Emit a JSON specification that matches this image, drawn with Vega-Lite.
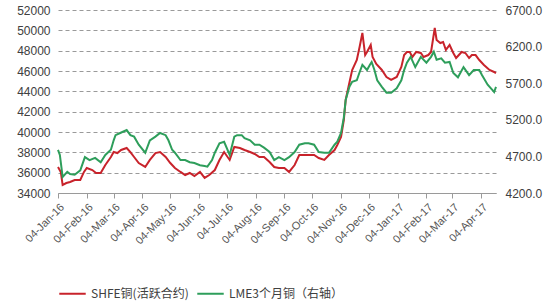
{
  "$schema": "https://vega.github.io/schema/vega-lite/v6.json",
  "width": 438,
  "height": 183,
  "autosize": {"type": "none"},
  "padding": {"left": 58, "top": 10, "right": 59, "bottom": 110},
  "background": "white",
  "config": {
    "view": {"stroke": null},
    "font": "Liberation Sans",
    "axis": {"labelColor": "#404040", "labelFontSize": 12, "titleFontSize": 12},
    "axisX": {"labelOverlap": false}
  },
  "datasets": {
    "shfe": [
      {"date": "2016-01-04", "value": 36560}, {"date": "2016-01-07", "value": 36070}, {"date": "2016-01-09", "value": 34790},
      {"date": "2016-01-13", "value": 34980}, {"date": "2016-01-17", "value": 35080}, {"date": "2016-01-22", "value": 35280},
      {"date": "2016-01-28", "value": 35280}, {"date": "2016-02-01", "value": 36070}, {"date": "2016-02-04", "value": 36460},
      {"date": "2016-02-10", "value": 36260}, {"date": "2016-02-14", "value": 35970}, {"date": "2016-02-19", "value": 35970},
      {"date": "2016-02-24", "value": 36750}, {"date": "2016-03-01", "value": 37540}, {"date": "2016-03-04", "value": 38030},
      {"date": "2016-03-08", "value": 37930}, {"date": "2016-03-12", "value": 38230}, {"date": "2016-03-18", "value": 38430},
      {"date": "2016-03-22", "value": 38030}, {"date": "2016-03-26", "value": 37540}, {"date": "2016-03-31", "value": 36950},
      {"date": "2016-04-07", "value": 36560}, {"date": "2016-04-12", "value": 37250}, {"date": "2016-04-18", "value": 37930},
      {"date": "2016-04-23", "value": 38030}, {"date": "2016-04-29", "value": 37540}, {"date": "2016-05-04", "value": 36950},
      {"date": "2016-05-09", "value": 36460}, {"date": "2016-05-15", "value": 36070}, {"date": "2016-05-20", "value": 35770},
      {"date": "2016-05-25", "value": 35970}, {"date": "2016-05-30", "value": 35670}, {"date": "2016-06-05", "value": 36070},
      {"date": "2016-06-10", "value": 35480}, {"date": "2016-06-15", "value": 35770}, {"date": "2016-06-21", "value": 36260},
      {"date": "2016-06-26", "value": 37250}, {"date": "2016-07-01", "value": 38030}, {"date": "2016-07-07", "value": 37250},
      {"date": "2016-07-12", "value": 38530}, {"date": "2016-07-18", "value": 38430}, {"date": "2016-07-23", "value": 38230},
      {"date": "2016-07-29", "value": 38030}, {"date": "2016-08-03", "value": 37840}, {"date": "2016-08-08", "value": 37540},
      {"date": "2016-08-13", "value": 37540}, {"date": "2016-08-19", "value": 37050}, {"date": "2016-08-24", "value": 36560},
      {"date": "2016-08-29", "value": 36460}, {"date": "2016-09-04", "value": 36460}, {"date": "2016-09-09", "value": 36070},
      {"date": "2016-09-15", "value": 36750}, {"date": "2016-09-20", "value": 37740}, {"date": "2016-09-26", "value": 37740},
      {"date": "2016-09-30", "value": 37740}, {"date": "2016-10-06", "value": 37740}, {"date": "2016-10-11", "value": 37440},
      {"date": "2016-10-17", "value": 37250}, {"date": "2016-10-22", "value": 37740}, {"date": "2016-10-28", "value": 38230},
      {"date": "2016-10-31", "value": 38720}, {"date": "2016-11-04", "value": 39510}, {"date": "2016-11-07", "value": 41180},
      {"date": "2016-11-09", "value": 43150}, {"date": "2016-11-12", "value": 44430}, {"date": "2016-11-16", "value": 46100},
      {"date": "2016-11-21", "value": 47080}, {"date": "2016-11-24", "value": 48360}, {"date": "2016-11-27", "value": 49740},
      {"date": "2016-11-30", "value": 47570}, {"date": "2016-12-02", "value": 47870}, {"date": "2016-12-06", "value": 48560},
      {"date": "2016-12-08", "value": 47380}, {"date": "2016-12-12", "value": 46690}, {"date": "2016-12-18", "value": 46100},
      {"date": "2016-12-23", "value": 45410}, {"date": "2016-12-28", "value": 45120}, {"date": "2017-01-03", "value": 45410},
      {"date": "2017-01-08", "value": 46390}, {"date": "2017-01-11", "value": 47570}, {"date": "2017-01-14", "value": 47870},
      {"date": "2017-01-17", "value": 47870}, {"date": "2017-01-20", "value": 47380}, {"date": "2017-01-24", "value": 47870},
      {"date": "2017-01-29", "value": 47770}, {"date": "2017-02-01", "value": 47380}, {"date": "2017-02-06", "value": 47570},
      {"date": "2017-02-09", "value": 47870}, {"date": "2017-02-11", "value": 49050}, {"date": "2017-02-13", "value": 50230},
      {"date": "2017-02-15", "value": 49050}, {"date": "2017-02-19", "value": 48750}, {"date": "2017-02-22", "value": 48850},
      {"date": "2017-02-25", "value": 48070}, {"date": "2017-03-01", "value": 48560}, {"date": "2017-03-05", "value": 47770},
      {"date": "2017-03-08", "value": 47280}, {"date": "2017-03-14", "value": 47870}, {"date": "2017-03-18", "value": 47770},
      {"date": "2017-03-22", "value": 47280}, {"date": "2017-03-25", "value": 47570}, {"date": "2017-03-29", "value": 47570},
      {"date": "2017-04-02", "value": 47080}, {"date": "2017-04-07", "value": 46590}, {"date": "2017-04-13", "value": 46100},
      {"date": "2017-04-18", "value": 45900}, {"date": "2017-04-20", "value": 45800}
    ],
    "lme": [
      {"date": "2016-01-04", "value": 4790}, {"date": "2016-01-06", "value": 4720}, {"date": "2016-01-09", "value": 4420},
      {"date": "2016-01-14", "value": 4490}, {"date": "2016-01-17", "value": 4460}, {"date": "2016-01-22", "value": 4450},
      {"date": "2016-01-28", "value": 4510}, {"date": "2016-02-02", "value": 4690}, {"date": "2016-02-07", "value": 4650},
      {"date": "2016-02-13", "value": 4680}, {"date": "2016-02-19", "value": 4620}, {"date": "2016-02-24", "value": 4720},
      {"date": "2016-03-01", "value": 4790}, {"date": "2016-03-04", "value": 4920}, {"date": "2016-03-06", "value": 4990},
      {"date": "2016-03-11", "value": 5020}, {"date": "2016-03-18", "value": 5060}, {"date": "2016-03-22", "value": 4990},
      {"date": "2016-03-26", "value": 4970}, {"date": "2016-03-31", "value": 4860}, {"date": "2016-04-07", "value": 4750},
      {"date": "2016-04-12", "value": 4920}, {"date": "2016-04-18", "value": 4970}, {"date": "2016-04-23", "value": 5020},
      {"date": "2016-04-29", "value": 4990}, {"date": "2016-05-02", "value": 4920}, {"date": "2016-05-06", "value": 4790},
      {"date": "2016-05-09", "value": 4750}, {"date": "2016-05-15", "value": 4650}, {"date": "2016-05-20", "value": 4650},
      {"date": "2016-05-25", "value": 4620}, {"date": "2016-05-30", "value": 4610}, {"date": "2016-06-05", "value": 4580},
      {"date": "2016-06-10", "value": 4570}, {"date": "2016-06-13", "value": 4560}, {"date": "2016-06-18", "value": 4650},
      {"date": "2016-06-21", "value": 4750}, {"date": "2016-06-26", "value": 4880}, {"date": "2016-07-01", "value": 4900},
      {"date": "2016-07-07", "value": 4720}, {"date": "2016-07-12", "value": 4970}, {"date": "2016-07-15", "value": 4990},
      {"date": "2016-07-20", "value": 4990}, {"date": "2016-07-23", "value": 4950}, {"date": "2016-07-29", "value": 4920},
      {"date": "2016-08-03", "value": 4860}, {"date": "2016-08-08", "value": 4860}, {"date": "2016-08-13", "value": 4820},
      {"date": "2016-08-19", "value": 4760}, {"date": "2016-08-24", "value": 4650}, {"date": "2016-08-29", "value": 4690},
      {"date": "2016-09-04", "value": 4650}, {"date": "2016-09-09", "value": 4690}, {"date": "2016-09-15", "value": 4760},
      {"date": "2016-09-20", "value": 4860}, {"date": "2016-09-26", "value": 4880}, {"date": "2016-09-30", "value": 4880},
      {"date": "2016-10-06", "value": 4860}, {"date": "2016-10-11", "value": 4760}, {"date": "2016-10-17", "value": 4750},
      {"date": "2016-10-22", "value": 4750}, {"date": "2016-10-28", "value": 4860}, {"date": "2016-10-31", "value": 4900},
      {"date": "2016-11-04", "value": 5020}, {"date": "2016-11-07", "value": 5230}, {"date": "2016-11-09", "value": 5470},
      {"date": "2016-11-13", "value": 5650}, {"date": "2016-11-16", "value": 5720}, {"date": "2016-11-21", "value": 5740},
      {"date": "2016-11-24", "value": 5850}, {"date": "2016-11-27", "value": 5950}, {"date": "2016-12-02", "value": 5880},
      {"date": "2016-12-05", "value": 5950}, {"date": "2016-12-07", "value": 5990}, {"date": "2016-12-10", "value": 5880},
      {"date": "2016-12-13", "value": 5740}, {"date": "2016-12-18", "value": 5650}, {"date": "2016-12-23", "value": 5570},
      {"date": "2016-12-28", "value": 5570}, {"date": "2017-01-03", "value": 5630}, {"date": "2017-01-08", "value": 5740},
      {"date": "2017-01-11", "value": 5880}, {"date": "2017-01-14", "value": 5980}, {"date": "2017-01-18", "value": 6060},
      {"date": "2017-01-23", "value": 5920}, {"date": "2017-01-29", "value": 6060}, {"date": "2017-02-04", "value": 5980},
      {"date": "2017-02-09", "value": 6060}, {"date": "2017-02-12", "value": 6130}, {"date": "2017-02-15", "value": 6020},
      {"date": "2017-02-20", "value": 6040}, {"date": "2017-02-24", "value": 5980}, {"date": "2017-03-01", "value": 5990},
      {"date": "2017-03-05", "value": 5840}, {"date": "2017-03-10", "value": 5780}, {"date": "2017-03-16", "value": 5920},
      {"date": "2017-03-22", "value": 5810}, {"date": "2017-03-27", "value": 5880}, {"date": "2017-04-02", "value": 5880},
      {"date": "2017-04-05", "value": 5810}, {"date": "2017-04-11", "value": 5680}, {"date": "2017-04-16", "value": 5610},
      {"date": "2017-04-18", "value": 5580}, {"date": "2017-04-20", "value": 5650}
    ]
  },
  "encoding": {
    "x": {
      "field": "date", "type": "temporal", "title": null,
      "scale": {"domain": ["2016-01-04", "2017-04-20"]},
      "axis": {
        "values": [
          {"year": 2016, "month": 1, "date": 4}, {"year": 2016, "month": 2, "date": 4}, {"year": 2016, "month": 3, "date": 4},
          {"year": 2016, "month": 4, "date": 4}, {"year": 2016, "month": 5, "date": 4}, {"year": 2016, "month": 6, "date": 4},
          {"year": 2016, "month": 7, "date": 4}, {"year": 2016, "month": 8, "date": 4}, {"year": 2016, "month": 9, "date": 4},
          {"year": 2016, "month": 10, "date": 4}, {"year": 2016, "month": 11, "date": 4}, {"year": 2016, "month": 12, "date": 4},
          {"year": 2017, "month": 1, "date": 4}, {"year": 2017, "month": 2, "date": 4}, {"year": 2017, "month": 3, "date": 4},
          {"year": 2017, "month": 4, "date": 4}
        ],
        "format": "%d-%b-%y",
        "labelAngle": -45,
        "labelAlign": "right",
        "labelBaseline": "top",
        "labelOverlap": false,
        "labelFlush": false,
        "labelBound": false,
        "labelFontSize": 11,
        "labelColor": "#555555",
        "grid": false,
        "domainColor": "#9a9a9a",
        "tickColor": "#9a9a9a",
        "tickSize": 5,
        "labelPadding": 3
      }
    }
  },
  "layer": [
    {
      "data": {"name": "shfe"},
      "mark": {"type": "line", "strokeWidth": 2, "interpolate": "linear"},
      "encoding": {
        "y": {
          "field": "value", "type": "quantitative", "title": null,
          "scale": {"domain": [34000, 52000], "nice": false, "zero": false},
          "axis": {
            "orient": "left",
            "values": [34000, 36000, 38000, 40000, 42000, 44000, 46000, 48000, 50000, 52000],
            "format": "d",
            "domain": false,
            "ticks": false,
            "labelPadding": 8,
            "grid": true,
            "gridDash": [4, 3],
            "gridColor": "#9a9a9a",
            "gridWidth": 1
          }
        },
        "color": {
          "datum": "SHFE铜(活跃合约)",
          "type": "nominal",
          "scale": {"domain": ["SHFE铜(活跃合约)", "LME3个月铜（右轴）"], "range": ["#c8232b", "#2e9e5b"]},
          "legend": {
            "title": null,
            "orient": "bottom",
            "direction": "horizontal",
            "symbolType": "stroke",
            "symbolStrokeWidth": 2,
            "symbolSize": 700,
            "labelFontSize": 12,
            "labelFont": "Noto Sans CJK SC",
            "labelColor": "#404040",
            "columnPadding": 4,
            "offset": 33
          }
        }
      }
    },
    {
      "data": {"name": "lme"},
      "mark": {"type": "line", "strokeWidth": 2, "interpolate": "linear"},
      "encoding": {
        "y": {
          "field": "value", "type": "quantitative", "title": null,
          "scale": {"domain": [4200, 6700], "nice": false, "zero": false},
          "axis": {
            "orient": "right",
            "values": [4200, 4700, 5200, 5700, 6200, 6700],
            "format": ".1f",
            "domain": false,
            "ticks": false,
            "labelPadding": 9,
            "grid": false
          }
        },
        "color": {"datum": "LME3个月铜（右轴）", "type": "nominal"}
      }
    }
  ],
  "resolve": {"scale": {"y": "independent"}}
}
